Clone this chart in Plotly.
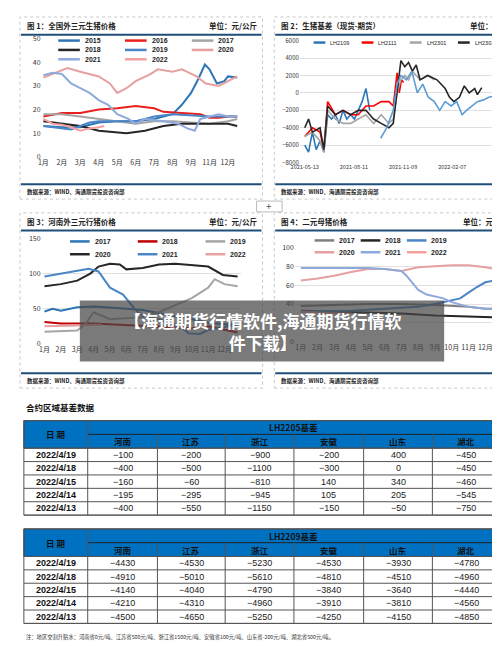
import plotly.graph_objects as go

W, H = 500, 646
def X(px): return px / W
def Y(py): return 1 - py / H

# ---- chart 1: 全国外三元生猪价格
c1_ticks = ['1月', '2月', '3月', '4月', '5月', '6月', '7月', '8月', '9月', '11月', '12月']
c1_series = {
    '2015': ([0, 1, 2, 3, 4, 5, 6, 7, 7.5, 8, 8.4, 8.75, 9, 9.4, 9.8, 10, 10.5],
             [13, 12.5, 12.5, 14.5, 15, 15, 16, 18, 22, 27, 33, 39, 37, 31, 32, 34, 33.5]),
    '2016': ([0, 1, 2, 3, 4, 4.5, 5, 6, 6.5, 7.5, 8.5, 9, 9.5, 10, 10.5],
             [17, 18.5, 18.5, 20, 20.5, 21, 21.5, 20.5, 19, 18.5, 18, 16.5, 16.5, 17, 17]),
    '2017': ([0, 1, 2, 3, 4, 5, 6, 7, 8, 9, 10, 10.5],
             [18, 18, 17, 16, 15, 14, 15, 15, 14.5, 14, 15, 16]),
    '2018': ([0, 1, 2, 3, 4, 4.5, 5.5, 6, 6.5, 7.5, 9, 10, 10.5],
             [15, 14, 13, 11, 10.5, 10, 11, 12, 13, 14, 14, 14, 13]),
    '2019': ([0, 1, 1.5, 2, 2.5, 3, 4, 5, 5.5, 6, 7, 8, 9, 10, 10.5],
             [13, 12, 11.5, 13, 14.5, 15, 15, 15, 16, 17, 18, 17.5, 17, 17, 17]),
    '2020': ([0, 0.5, 1.3, 2, 3, 3.6, 4, 4.5, 5, 5.8, 6.2, 7, 7.5, 8.3, 8.8, 9.5, 10, 10.5],
             [33.5, 35, 37.5, 36, 34, 31, 27, 29, 32, 35, 37, 36, 37, 34, 31, 30, 32, 34]),
    '2021': ([0, 0.5, 1, 1.5, 2, 2.5, 3, 3.5, 4, 4.6, 5, 5.5, 6.5, 7.3, 7.8, 8.2, 8.5, 9, 9.5, 10, 10.5],
             [34.5, 35.5, 35, 31, 29, 27, 24, 22, 18, 16, 14, 16, 15, 14, 12, 11, 16, 17, 18, 17, 17]),
    '2022': ([0, 0.5, 1, 1.5, 2, 2.5, 3, 3.3],
             [16, 14, 13.5, 12.5, 11, 12, 12.5, 13]),
}
c1_colors = {'2015': '#2E75B6', '2016': '#E8211D', '2017': '#A5A5A5', '2018': '#262626',
             '2019': '#4A86C5', '2020': '#E6A0A0', '2021': '#8EA9DB', '2022': '#F4A0A0'}

# ---- chart 2: 生猪基差（现货-期货）
c2_series = {
    'LH2109': (['2021-05-13', '2021-05-20', '2021-05-27', '2021-06-03', '2021-06-10', '2021-06-17', '2021-06-24',
                '2021-07-01', '2021-07-08', '2021-07-15', '2021-07-22', '2021-07-29', '2021-08-05', '2021-08-12',
                '2021-08-19', '2021-08-26', '2021-09-02', '2021-09-09'],
               [-6000, -6800, -4500, -6500, -5500, -6800, -2500, -3000, -2500, -3500, -2000, -3000, -2500,
                -3000, -2000, -1000, 500, -2000]),
    'LH2111': (['2021-05-13', '2021-05-27', '2021-06-10', '2021-06-17', '2021-06-24', '2021-07-08', '2021-07-22',
                '2021-08-05', '2021-08-19', '2021-09-02', '2021-09-16', '2021-09-30', '2021-10-14', '2021-10-22',
                '2021-10-29', '2021-11-02', '2021-11-06', '2021-11-10'],
               [-5000, -4000, -4500, -6500, -1000, -2500, -2000, -2500, -2500, -1500, -1500, -1000, -1000,
                -1500, 2300, 0, 1500, 1200]),
    'LH2301': (['2021-05-13', '2021-05-27', '2021-06-10', '2021-06-17', '2021-06-24', '2021-07-08', '2021-07-22',
                '2021-08-05', '2021-08-19', '2021-09-02', '2021-09-16', '2021-09-30', '2021-10-14', '2021-10-22',
                '2021-10-29', '2021-11-05', '2021-11-12', '2021-11-19', '2021-11-26', '2021-12-10', '2021-12-24',
                '2022-01-05'],
               [-5000, -4500, -5500, -6800, -2000, -3000, -3500, -3500, -3000, -2500, -3500, -2500, -3500,
                -3000, 0, 1500, 2000, 1500, 2500, 1500, 2000, 1500]),
    'LH2303': (['2021-05-13', '2021-05-20', '2021-05-27', '2021-06-10', '2021-06-17', '2021-06-24', '2021-07-08',
                '2021-07-22', '2021-08-05', '2021-08-19', '2021-09-02', '2021-09-16', '2021-09-30', '2021-10-14',
                '2021-10-22', '2021-10-29', '2021-11-05', '2021-11-12', '2021-11-19', '2021-11-26', '2021-12-03',
                '2021-12-10', '2021-12-24', '2022-01-10', '2022-01-25', '2022-02-02', '2022-02-10', '2022-02-20',
                '2022-03-01', '2022-03-10', '2022-03-20', '2022-03-25', '2022-04-02'],
               [-4000, -3000, -4500, -4000, -6500, -1500, -2500, -2000, -2500, -2000, -2000, -3000, -3500,
                -4000, -3500, 0, 3700, 3000, 3500, 2500, 3200, 1500, 2000, 1500, 500, -500, -1000, -500,
                800, 0, 500, -200, 600]),
    'LH2205': (['2021-09-29', '2021-10-10', '2021-10-22', '2021-10-29', '2021-11-05', '2021-11-15', '2021-11-25',
                '2021-12-05', '2021-12-15', '2021-12-25', '2022-01-05', '2022-01-15', '2022-01-25', '2022-02-05',
                '2022-02-15', '2022-02-25', '2022-03-05', '2022-03-15', '2022-03-25', '2022-04-05', '2022-04-15',
                '2022-04-28'],
               [-5200, -4000, -2000, 1000, 2000, 1500, 2500, 0, 1000, -500, -1000, -2000, -1000, -1500,
                -1000, -2500, -2000, -1500, -1000, -800, -500, -300]),
}
c2_colors = {'LH2109': '#2E75B6', 'LH2111': '#FF0000', 'LH2301': '#A5A5A5', 'LH2303': '#262626', 'LH2205': '#5B9BD5'}
c2_ticks = ['2021-05-13', '2021-08-11', '2021-11-09', '2022-02-07']

# ---- chart 3: 河南外三元生猪价格
month_ticks = ['1月', '2月', '3月', '4月', '5月', '6月', '7月', '8月', '9月', '10月', '11月', '12月']
c3_series = {
    '2017': ([0, 0.5, 1, 2, 3, 4, 5, 6, 8, 9, 10, 11, 11.8], [46, 50, 47, 52, 53, 52, 50, 48, 40, 35, 30, 28, 28]),
    '2018': ([0, 1, 3, 5, 7, 9, 10, 11, 11.8], [31, 29, 29, 27, 25, 22, 25, 20, 16]),
    '2019': ([0, 1, 2, 2.5, 3, 3.5, 4, 6, 7, 8, 9, 10, 10.4, 11, 11.8],
             [17, 18, 19, 28, 45, 40, 35, 38, 45, 55, 65, 80, 92, 85, 82]),
    '2020': ([0, 1, 2, 2.8, 3.3, 4, 4.6, 5, 6, 7, 8, 9, 10, 10.9, 11.8],
             [82, 85, 90, 100, 110, 114, 113, 106, 108, 113, 114, 112, 110, 98, 96]),
    '2021': ([0, 1, 2, 2.7, 3.3, 4, 4.8, 5.5, 6, 7, 8.3, 8.8, 9.5, 10, 11, 11.8],
             [96, 100, 105, 107, 103, 80, 70, 50, 40, 35, 25, 15, 14, 20, 24, 28]),
    '2022': ([0, 1, 2, 3, 3.5], [25, 25, 26, 27, 27]),
}
c3_colors = {'2017': '#2E75B6', '2018': '#C00000', '2019': '#A5A5A5', '2020': '#262626', '2021': '#4A86C5', '2022': '#E6A0A0'}

# ---- chart 4: 二元母猪价格
c4_series = {
    '2017': ([0, 2, 4, 6, 8, 10, 11, 11.6], [38, 39, 40, 40, 39, 37, 35, 35]),
    '2018': ([0, 2, 4, 6, 8, 10, 11, 11.6], [33, 32, 31, 30, 28, 27, 26, 26]),
    '2019': ([0, 3, 5, 7, 8, 9, 9.5, 10, 10.5, 11, 11.6], [32, 33, 35, 37, 40, 44, 46, 52, 58, 63, 65]),
    '2020': ([0, 1, 2, 3, 4, 5, 6, 7, 8, 9, 10, 11, 11.6], [65, 67, 70, 74, 77, 77, 75, 79, 80, 81, 81, 79, 77]),
    '2021': ([0, 2, 4, 5, 6, 6.3, 7, 7.5, 8.5, 9, 10, 11, 11.6], [78, 78, 78, 77, 75, 70, 55, 50, 46, 42, 37, 35, 35]),
    '2022': ([0, 1, 2, 3], [32, 31, 30, 30]),
}
c4_colors = {'2017': '#7F7F7F', '2018': '#262626', '2019': '#4A86C5', '2020': '#E6A0A0', '2021': '#8EA9DB', '2022': '#F4A0A0'}

# ---- tables
regions = ['河南', '江苏', '浙江', '安徽', '山东', '湖北']
dates = ['2022/4/19', '2022/4/18', '2022/4/15', '2022/4/14', '2022/4/13']
lh2205 = [[-100, -200, -900, -200, 400, -450],
          [-400, -500, -1100, -300, 0, -450],
          [-160, -60, -810, 140, 340, -460],
          [-195, -295, -945, 105, 205, -545],
          [-400, -550, -1150, -150, -50, -750]]
lh2209 = [[-4430, -4530, -5230, -4530, -3930, -4780],
          [-4910, -5010, -5610, -4810, -4510, -4960],
          [-4140, -4040, -4790, -3840, -3640, -4440],
          [-4210, -4310, -4960, -3910, -3810, -4560],
          [-4500, -4650, -5250, -4250, -4150, -4850]]

FONT = 'Noto Sans CJK SC'
NAVY = '#1F4E79'
fig = go.Figure()
shapes, annos = [], []

def txt(px, py, text, size, anchor='center', color='#222', family=FONT):
    annos.append(dict(xref='paper', yref='paper', x=X(px), y=Y(py), text=text, xanchor=anchor,
                      yanchor='middle', showarrow=False, font=dict(size=size, family=family, color=color)))

def hline(x0, x1, py, color, width=1):
    shapes.append(dict(type='line', xref='paper', yref='paper', x0=X(x0), x1=X(x1), y0=Y(py), y1=Y(py),
                       line=dict(color=color, width=width)))

def add_lines(series, colors, xa, ya, width, leg_x0, leg_y0, col_w, row_h, ncol, seg, fsize, bold=True):
    for k, (name, (xs, ys)) in enumerate(series.items()):
        fig.add_trace(go.Scatter(x=xs, y=ys, name=name, mode='lines', xaxis=xa, yaxis=ya, showlegend=False,
                                 line=dict(color=colors[name], width=width)))
        lx = leg_x0 + (k % ncol) * col_w
        ly = leg_y0 + (k // ncol) * row_h
        hline(lx, lx + seg, ly, colors[name], 2.5)
        txt(lx + seg + 3, ly, '<b>' + name + '</b>' if bold else name, fsize, 'left', '#222', 'Arial')

add_lines(c1_series, c1_colors, 'x', 'y', 2, 42, 27, 68, 9.5, 3, 22, 7)
add_lines(c2_series, c2_colors, 'x2', 'y2', 1.6, 302, 29, 49, 9, 5, 12, 5.5, False)
add_lines(c3_series, c3_colors, 'x3', 'y3', 2, 54, 231, 69, 13, 3, 20, 7)
add_lines(c4_series, c4_colors, 'x4', 'y4', 2, 303, 230, 47, 12, 3, 20, 7)

ax = dict(showline=False, ticks='', tickangle=0, zeroline=False)
tf = dict(size=7, color='#333', family=FONT)
lay = dict(
    xaxis=dict(domain=[X(25), X(228)], range=[-0.1, 10.7], tickvals=list(range(11)), ticktext=c1_ticks,
               showgrid=False, anchor='y', tickfont=tf, **ax),
    yaxis=dict(domain=[Y(145), Y(25)], range=[0, 50], dtick=10, showgrid=False, anchor='x', tickfont=tf, **ax),
    xaxis2=dict(domain=[X(288), X(490)], range=['2021-05-04', '2022-05-02'], tickvals=c2_ticks,
                ticktext=c2_ticks, showgrid=False, anchor='y2', tickfont=dict(size=5.5, color='#333'), **ax),
    yaxis2=dict(domain=[Y(151), Y(27)], range=[-8000, 6000], dtick=2000, gridcolor='#E0E0E0',
                anchor='x2', tickfont=dict(size=6, color='#333'), **ax),
    xaxis3=dict(domain=[X(25), X(228)], range=[-0.18, 12.0], tickvals=list(range(12)), ticktext=month_ticks,
                showgrid=False, anchor='y3', tickfont=tf, **ax),
    yaxis3=dict(domain=[Y(335), Y(228)], range=[0, 150], dtick=50, gridcolor='#E0E0E0', anchor='x3',
                tickfont=tf, **ax),
    xaxis4=dict(domain=[X(283), X(488)], range=[-0.35, 11.65], tickvals=list(range(12)), ticktext=month_ticks,
                showgrid=False, anchor='y4', tickfont=tf, **ax),
    yaxis4=dict(domain=[Y(333), Y(237)], range=[0, 100], dtick=20, gridcolor='#E0E0E0', anchor='x4',
                tickfont=tf, **ax),
)

# panel frames, headers
panels = [(3, 250, 3, 188, '图 1：全国外三元生猪价格', '单位：元/公斤'),
          (262, 510, 3, 188, '图 2：生猪基差（现货-期货）', '单位：元/吨'),
          (3, 250, 202, 380, '图 3：河南外三元行猪价格', '单位：元/公斤'),
          (262, 497, 202, 380, '图 4：二元母猪价格', '单位：元/公斤')]
for x0, x1, y0, y1, title, unit in panels:
    shapes.append(dict(type='rect', xref='paper', yref='paper', x0=X(x0), x1=X(x1), y0=Y(y1), y1=Y(y0),
                       line=dict(color='#C8C8C8', width=1, dash='dot')))
    hline(x0 + 1, x1 - 1, y0 + 18, NAVY, 2)
    hline(x0 + 1, x1 - 1, y1 - 15, NAVY, 2)
    txt(x0 + 5, y0 + 9, '<b>' + title + '</b>', 7.5, 'left')
    txt(x0 + 243, y0 + 9, '<b>' + unit + '</b>', 7.5, 'right')
    txt(x0 + 5, y1 - 7, '<b>数据来源：WIND、海通期货投资咨询部</b>', 5.5, 'left')
# "+" button
shapes.append(dict(type='rect', xref='paper', yref='paper', x0=X(244), x1=X(270), y0=Y(201), y1=Y(190),
                   line=dict(color='#BBBBBB', width=1), fillcolor='white', layer='above'))
txt(257, 195, '+', 10, 'center', '#555')

# tables
txt(7, 399, '<b>合约区域基差数据</b>', 8.5, 'left', '#111')
cols = [7, 72, 143, 212, 282, 353, 423, 492]
BLUE = '#0070C0'
for top, name, rows in [(413, 'LH2205基差', lh2205), (523, 'LH2209基差', lh2209)]:
    mid, hb = top + 14, top + 28
    rh = 13.6
    bottom = hb + rh * len(dates)
    shapes.append(dict(type='rect', xref='paper', yref='paper', x0=X(cols[0]), x1=X(cols[-1]),
                       y0=Y(hb), y1=Y(top), fillcolor=BLUE, line=dict(color='#444', width=1)))
    hline(cols[1], cols[-1], mid, '#222')
    for cx in cols[1:-1]:
        shapes.append(dict(type='line', xref='paper', yref='paper', x0=X(cx), x1=X(cx),
                           y0=Y(bottom), y1=Y(top if cx == cols[1] else mid), line=dict(color='#555', width=1)))
    for i in range(len(dates) + 1):
        hline(cols[0], cols[-1], hb + rh * i, '#555')
    shapes.append(dict(type='rect', xref='paper', yref='paper', x0=X(cols[0]), x1=X(cols[-1]),
                       y0=Y(bottom), y1=Y(top), line=dict(color='#555', width=1)))
    txt((cols[0] + cols[1]) / 2, (top + hb) / 2, '<b>日 期</b>', 8.5, 'center', '#111')
    txt((cols[1] + cols[-1]) / 2, (top + mid) / 2, '<b>' + name + '</b>', 8.5, 'center', '#111')
    for j, rg in enumerate(regions):
        txt((cols[j + 1] + cols[j + 2]) / 2, (mid + hb) / 2, '<b>' + rg + '</b>', 8.5, 'center', '#111')
    for i, d in enumerate(dates):
        cy = hb + rh * (i + 0.5)
        txt((cols[0] + cols[1]) / 2, cy, '<b>' + d + '</b>', 9, 'center', '#111', 'Arial')
        for j, v in enumerate(rows[i]):
            txt((cols[j + 1] + cols[j + 2]) / 2, cy, str(v).replace('-', '−'), 9, 'center', '#222', 'Arial')
txt(7, 633, '注：地区交割升贴水：河南省0元/吨、江苏省500元/吨、浙江省1500元/吨、安徽省100元/吨、山东省-200元/吨、湖北省500元/吨。',
    5.3, 'left', '#333')

# overlay title
shapes.append(dict(type='rect', xref='paper', yref='paper', x0=X(64), x1=X(435), y0=Y(353), y1=Y(291),
                   fillcolor='rgba(70,70,70,0.72)', line=dict(width=0), layer='above'))
txt(250, 322, '<b>【海通期货行情软件,海通期货行情软<br>件下载】</b>', 17, 'center', 'white')

fig.update_layout(width=W, height=H, margin=dict(l=0, r=0, t=0, b=0), plot_bgcolor='white',
                  paper_bgcolor='white', shapes=shapes, annotations=annos, showlegend=False,
                  font=dict(family=FONT), **lay)
fig.write_html("out.html")
